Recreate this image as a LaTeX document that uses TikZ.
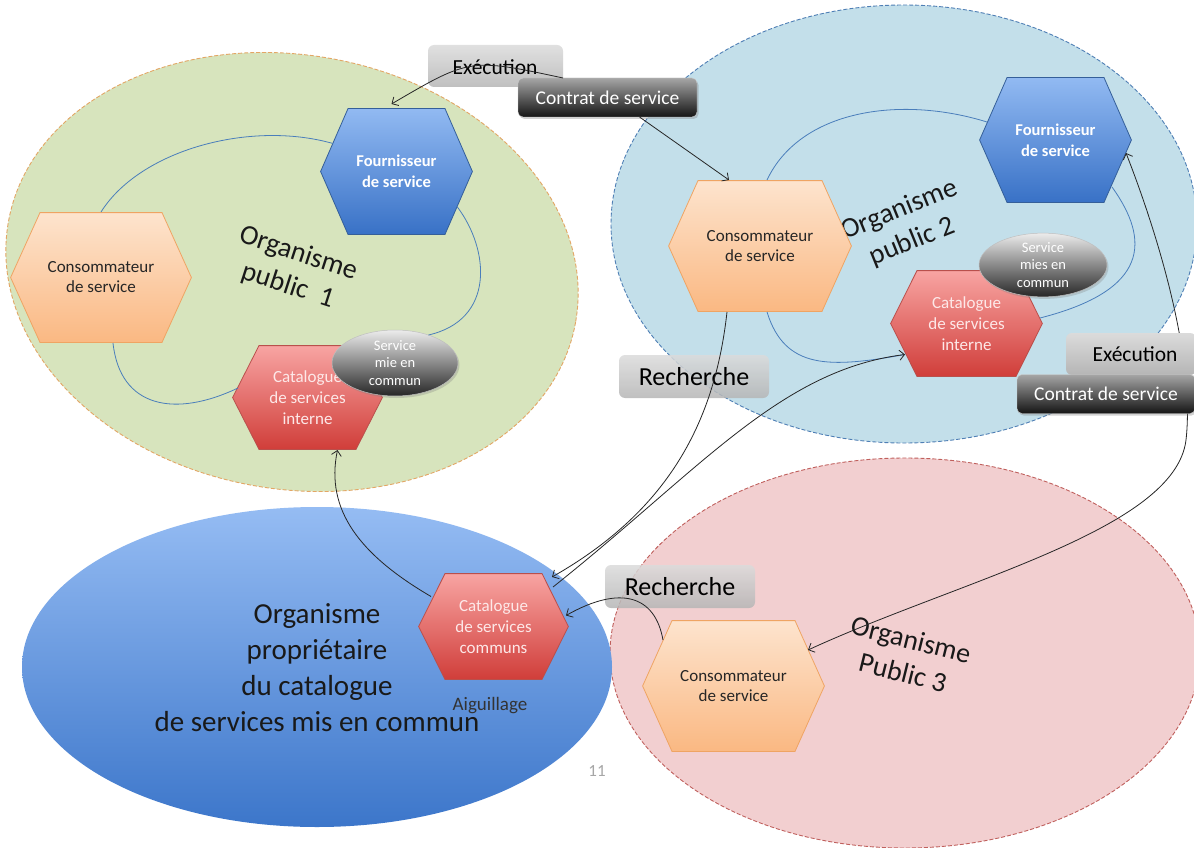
\documentclass[tikz,border=0pt]{standalone}
\usepackage{fontspec}
\setmainfont{Carlito}
\usetikzlibrary{arrows.meta,shapes.geometric,shadows,calc}
\definecolor{grfill}{HTML}{D7E4BD}
\definecolor{grline}{HTML}{E3A665}
\definecolor{blfill}{HTML}{C3DFEA}
\definecolor{blline}{HTML}{4F7FB5}
\definecolor{rdfill}{HTML}{F2CFD0}
\definecolor{rdline}{HTML}{C0605D}
\definecolor{bigtop}{HTML}{95BCF3}
\definecolor{bigbot}{HTML}{3C76CA}
\definecolor{contop}{HTML}{FDE4CE}
\definecolor{conbot}{HTML}{FAB882}
\definecolor{conline}{HTML}{EFA463}
\definecolor{fourtop}{HTML}{92BAF2}
\definecolor{fourbot}{HTML}{3871C6}
\definecolor{fourline}{HTML}{355F99}
\definecolor{cattop}{HTML}{F8A5A3}
\definecolor{catbot}{HTML}{D03D39}
\definecolor{catline}{HTML}{B9504C}
\definecolor{cattext}{HTML}{FDE8E8}
\definecolor{flow}{HTML}{4A7EBB}
\tikzset{
  hexa/.style n args={6}{rectangle, inner sep=0pt, outer sep=0pt, align=center,
    minimum width=#1, minimum height=#2,
    path picture={
      \shade[top color=#4, bottom color=#5, draw=#6, line width=0.8pt]
        ([xshift=0.6pt]path picture bounding box.west)
        -- ([xshift=#3,yshift=-0.6pt]path picture bounding box.north west)
        -- ([xshift=-#3,yshift=-0.6pt]path picture bounding box.north east)
        -- ([xshift=-0.6pt]path picture bounding box.east)
        -- ([xshift=-#3,yshift=0.6pt]path picture bounding box.south east)
        -- ([xshift=#3,yshift=0.6pt]path picture bounding box.south west)
        -- cycle;
    }},
  conso/.style 2 args={hexa={#1}{#2}{30pt}{contop}{conbot}{conline},
    font=\fontsize{17}{20}\selectfont, text=black!85},
  fourn/.style 2 args={hexa={#1}{#2}{28pt}{fourtop}{fourbot}{fourline},
    font=\fontsize{16.5}{21}\selectfont\bfseries, text=white},
  catal/.style 2 args={hexa={#1}{#2}{27pt}{cattop}{catbot}{catline},
    font=\fontsize{17}{21}\selectfont, text=cattext},
  mutu/.style={ellipse, inner sep=0pt, outer sep=0pt, align=center,
    top color=gray!15, bottom color=black!85, draw=gray!50, line width=0.5pt,
    text=white, font=\fontsize{14.5}{17.5}\selectfont,
    drop shadow={opacity=0.3, shadow xshift=1.5pt, shadow yshift=-2pt}},
  graylab/.style={rounded corners=6pt, inner sep=0pt, outer sep=0pt,
    top color=gray!28, bottom color=gray!58, fill opacity=0.85, text opacity=1,
    text=black},
  darklab/.style={rounded corners=5pt, inner sep=0pt, outer sep=0pt,
    top color=gray!70, bottom color=black!92, text=white, draw=gray!40, line width=0.4pt,
    font=\fontsize{19.5}{22}\selectfont,
    drop shadow={opacity=0.35, shadow xshift=1.5pt, shadow yshift=-2pt}},
  orgtext/.style={align=center, text=black!90, font=\fontsize{28}{34}\selectfont},
  conn/.style={draw=black!85, line width=0.8pt, -{Straight Barb[length=5pt,width=10pt]}},
  conn2/.style={draw=black!85, line width=0.8pt, {Straight Barb[length=5pt,width=10pt]}-{Straight Barb[length=5pt,width=10pt]}},
  flowline/.style={draw=flow, line width=0.8pt},
}
\begin{document}
\begin{tikzpicture}[x=1pt, y=-1pt]
\path[use as bounding box] (0,0) rectangle (1194,848);
\fill[white] (0,0) rectangle (1194,848);

% organisation ellipses
\draw[fill=grfill, draw=grline, line width=0.9pt, dash pattern=on 4pt off 2pt,
  rotate around={-10:(292,272)}] (292,272) ellipse [x radius=288, y radius=217];
\draw[fill=blfill, draw=blline, line width=0.9pt, dash pattern=on 4pt off 2pt]
  (904,224) ellipse [x radius=293, y radius=219];
\draw[fill=rdfill, draw=rdline, line width=0.9pt, dash pattern=on 4pt off 2pt]
  (905,653) ellipse [x radius=295, y radius=195];
\shade[top color=bigtop, bottom color=bigbot]
  (317,667) ellipse [x radius=295, y radius=160];

% organisation labels
\node[orgtext, rotate=-18] (o1) at (293,270) {Organisme\\public~ 1};
\node[orgtext, rotate=22] (o2) at (906,226) {Organisme\\public 2};
\node[orgtext, rotate=-14] (o3) at (907,656) {Organisme\\Public 3};
\node[align=center, text=black!90, font=\fontsize{29}{36}\selectfont] (o0) at (317,668)
  {Organisme\\propriétaire\\du catalogue\\de services mis en commun};

% service nodes
\node[conso={182pt}{131pt}] (c1) at (101,277.5) {Consommateur\\de service};
\node[fourn={153pt}{127pt}] (f1) at (396.5,171.5) {Fournisseur\\de service};
\node[catal={151pt}{105pt}] (k1) at (307.5,397.5) {Catalogue\\de services\\interne};
\node[conso={184pt}{132pt}] (c2) at (760,246) {Consommateur\\de service};
\node[fourn={153pt}{126pt}] (f2) at (1055.5,140) {Fournisseur\\de service};
\node[catal={153pt}{107pt}] (k2) at (966.5,323.5) {Catalogue\\de services\\interne};
\node[catal={151pt}{107pt}] (kc) at (493.5,626.5) {Catalogue\\de services\\communs};
\node[conso={183pt}{132pt}] (c3) at (733.5,686) {Consommateur\\de service};

% internal flows (blue)
\draw[flowline] ([xshift=12pt]c1.south) .. controls (120,408) and (175,418) .. ([xshift=6pt,yshift=9.5pt]k1.west);
\draw[flowline] (c1.north) .. controls (140,150) and (250,120) .. ([xshift=13pt,yshift=28pt]f1.west);
\draw[flowline] ([xshift=7pt]c2.north) .. controls (800,110) and (900,95) .. ([xshift=8pt,yshift=18pt]f2.west);
\draw[flowline] ([xshift=7pt]c2.south) .. controls (785,370) and (830,368) .. ([xshift=15pt,yshift=-31pt]k2.west);

\node[mutu, minimum width=126pt, minimum height=66pt] (s1) at (395,363) {Service\\mie en\\commun};
\node[mutu, minimum width=128pt, minimum height=57pt] (s2) at (1043,265) {Service\\mies en\\commun};

\draw[flowline] ([xshift=-16pt,yshift=-35pt]f1.east) .. controls (490,250) and (495,320) .. (s1.40);
\draw[flowline] ([xshift=-20pt,yshift=-47pt]f2.east) .. controls (1150,240) and (1150,290) .. ([xshift=-3pt,yshift=5.5pt]k2.east);

% translucent labels under the connectors
\node[graylab, minimum width=135pt, minimum height=42pt] (ex1) at (495.5,66) {};
\node[font=\fontsize{21.5}{24}\selectfont] (ex1t) at (495,67) {Exécution};
\node[graylab, minimum width=150pt, minimum height=43pt,
  font=\fontsize{26}{30}\selectfont] (re1) at (694,376.5) {Recherche};
\node[graylab, minimum width=150pt, minimum height=43pt,
  font=\fontsize{26}{30}\selectfont] (re2) at (680,586.5) {Recherche};

% connectors
\node[darklab, minimum width=179pt, minimum height=39pt] (ct1) at (607.5,97.5) {Contrat de service};
\draw[conn] ([xshift=45pt]ct1.north west) .. controls (470,58) .. ([xshift=-5pt,yshift=4pt]f1.north);
\draw[conn] ([xshift=32pt]ct1.south) -- ([xshift=-31pt]c2.north);
\draw[conn2] ([xshift=-6pt,yshift=-13pt]f2.east) .. controls (1160,240) and (1195,360) .. (1186,440)
  .. controls (1175,530) and (960,580) .. ([xshift=-17pt,yshift=36pt]c3.east);
\draw[conn] ([xshift=-33pt]c2.south) .. controls (715,420) and (670,510) .. ([xshift=-17pt,yshift=-4pt]kc.north east);
\draw[conn] ([xshift=-16pt,yshift=-14pt]kc.north east) .. controls (700,470) and (780,370) .. ([xshift=15pt,yshift=-31pt]k2.west);
\draw[conn] ([xshift=21pt,yshift=46pt]c3.west) .. controls (655,595) and (620,585) .. ([xshift=-3pt,yshift=11pt]kc.east);
\draw[conn] ([xshift=13pt,yshift=30pt]kc.west) .. controls (360,555) and (325,510) .. ([xshift=30pt]k1.south);

% labels over the right-hand connector
\node[graylab, fill opacity=1, minimum width=130pt, minimum height=42pt,
  font=\fontsize{21.5}{24}\selectfont] (ex2) at (1131,354) {\hspace*{8pt}Exécution};
\node[darklab, minimum width=178pt, minimum height=39pt] (ct2) at (1106,394) {Contrat de service};

% misc text
\node[text=black!80, font=\fontsize{19}{22}\selectfont] (aig) at (490,706) {Aiguillage};
\node[text=gray!70, font=\fontsize{17}{20}\selectfont] (pg) at (597,771) {11};
\end{tikzpicture}
\end{document}
